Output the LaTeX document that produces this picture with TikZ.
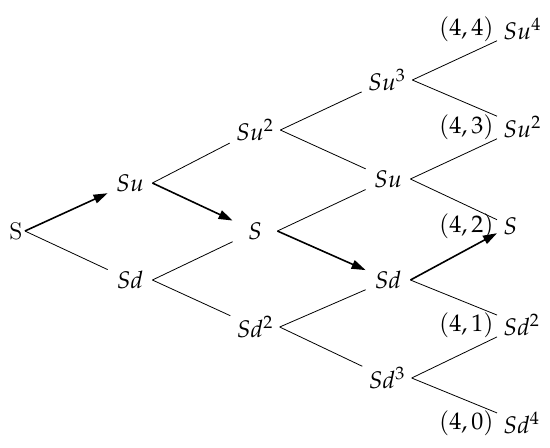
\documentclass[tikz,border=0pt,12pt]{standalone}
\usepackage{mathpazo}
\usetikzlibrary{positioning,arrows.meta}

\tikzset{
  price/.style={minimum width=22pt, inner sep=3pt},
  leaf/.style={anchor=west, inner sep=3pt, label distance=-2pt},
  every label/.style={xshift=2.5pt},
  branch/.style={thin},
  walk/.style={thick, -{Triangle[length=7pt,width=4.5pt]}}
}

\begin{document}
\begin{tikzpicture}[x=0.5pt,y=-0.5pt]
  \useasboundingbox (0,0) rectangle (550,447);

  % root and first steps
  \node[inner sep=1pt] (s0) at (16,231) {S};
  \node[price] (su1) at (130,183) {$Su$};
  \node[price] (sd1) at (130,280) {$Sd$};

  \node[price] (suu2) at (255,130) {$Su^2$};
  \node[price] (sm2)  at (255,231) {$S$};
  \node[price] (sdd2) at (255,327) {$Sd^2$};

  \node[price] (suuu3) at (387,80)  {$Su^3$};
  \node[price] (su3)   at (388,179) {$Su$};
  \node[price] (sd3)   at (388,280) {$Sd$};
  \node[price] (sddd3) at (387,378) {$Sd^3$};

  % final prices, with their indices
  \node[leaf, label={left:$(4,4)$}] (s44) at (497,29)  {$Su^4$};
  \node[leaf, label={left:$(4,3)$}] (s43) at (497,127) {$Su^2$};
  \node[leaf, label={left:$(4,2)$}] (s42) at (497,226) {$S$};
  \node[leaf, label={left:$(4,1)$}] (s41) at (497,325) {$Sd^2$};
  \node[leaf, label={left:$(4,0)$}] (s40) at (497,423) {$Sd^4$};

  % branches
  \draw[walk]   (s0.east) -- (su1);
  \draw[branch] (s0.east) -- (sd1);

  \draw[branch] (su1.east) -- (suu2);
  \draw[walk]   (su1.east) -- (sm2);
  \draw[branch] (sd1.east) -- (sm2);
  \draw[branch] (sd1.east) -- (sdd2);

  \draw[branch] (suu2.east) -- (suuu3);
  \draw[branch] (suu2.east) -- (su3);
  \draw[branch] (sm2.east)  -- (su3);
  \draw[walk]   (sm2.east)  -- (sd3);
  \draw[branch] (sdd2.east) -- (sd3);
  \draw[branch] (sdd2.east) -- (sddd3);

  \draw[branch] (suuu3.east) -- (s44);
  \draw[branch] (suuu3.east) -- (s43);
  \draw[branch] (su3.east)   -- (s43);
  \draw[branch] (su3.east)   -- (s42);
  \draw[walk]   (sd3.east)   -- (s42);
  \draw[branch] (sd3.east)   -- (s41);
  \draw[branch] (sddd3.east) -- (s41);
  \draw[branch] (sddd3.east) -- (s40);
\end{tikzpicture}
\end{document}
